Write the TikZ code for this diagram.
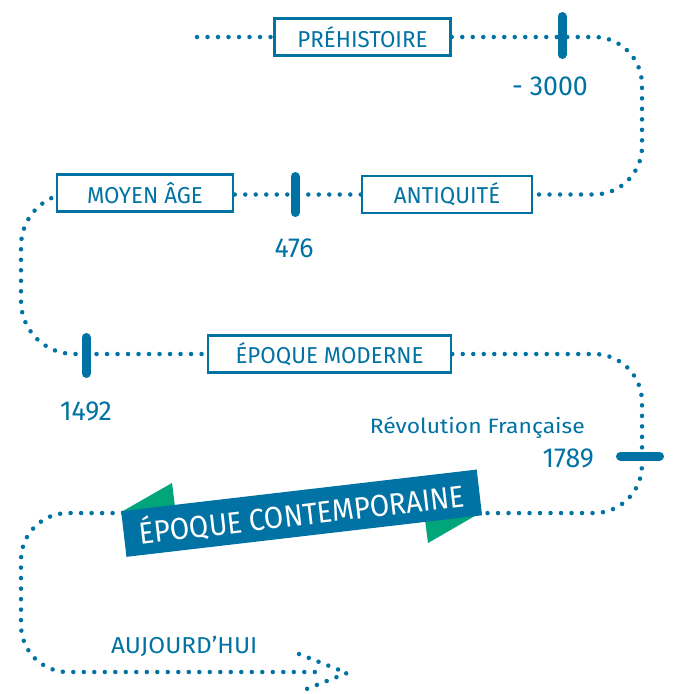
\documentclass[tikz,border=0pt]{standalone}
\usepackage{fontspec}
\usetikzlibrary{backgrounds}
\newfontfamily\condfont[FakeStretch=0.97]{Fira Sans}
\newfontfamily\widefont[FakeStretch=1.06]{Fira Sans}
\newfontfamily\bannerfont[FakeStretch=0.92]{Fira Sans}
\newfontfamily\numfont[FakeStretch=0.97]{Fira Sans}
\newfontfamily\regfont[FakeStretch=1.1]{Fira Sans}
\definecolor{hblue}{HTML}{0072A3}
\definecolor{hgreen}{HTML}{00A679}
\begin{document}
\begin{tikzpicture}[x=1pt,y=-1pt,
  dots/.style={draw=hblue, line width=4.5pt, line cap=round, dash pattern=on 0pt off 10.5pt},
  period/.style={draw=hblue, line width=2.5pt, fill=white, text=hblue, inner sep=0pt,
    minimum height=37pt, font=\condfont\fontsize{23}{23}\selectfont},
  tickmark/.style={draw=hblue, line width=9pt, line cap=round},
  datelabel/.style={text=hblue, inner sep=0pt, font=\numfont\fontsize{27.5}{27.5}\selectfont},
  smalllabel/.style={text=hblue, inner sep=0pt, font=\regfont\fontsize{20.8}{20.8}\selectfont},
  todaylabel/.style={text=hblue, inner sep=0pt, font=\widefont\fontsize{23}{23}\selectfont},
  banner/.style={fill=hblue, text=white, inner sep=0pt, minimum width=358pt, minimum height=46pt,
    font=\bannerfont\fontsize{30.5}{30.5}\selectfont},
  greentri/.style={fill=hgreen, draw=none}
]
\useasboundingbox (0,0) rectangle (675,694);

% green triangles behind the banner
\fill[greentri] (121.7,511.7) -- (172,483) -- (176,515) -- cycle;
\fill[greentri] (480,513) -- (428,543) -- (424,512) -- cycle;

% period boxes
\node[period, minimum width=176pt] (pre) at (362.5,37) {PRÉHISTOIRE};
\node[period, minimum width=170pt] (ant) at (447,194.5) {ANTIQUITÉ};
\node[period, minimum width=176pt] (moy) at (145,193) {MOYEN ÂGE};
\node[period, minimum width=243pt] (mod) at (329.5,354) {ÉPOQUE MODERNE};
\node[banner, rotate=6.67] (ban) at (301.6,513.2) {ÉPOQUE CONTEMPORAINE};

% helper coordinates
\coordinate (start) at (197,37);
\coordinate (r1) at (642,37);
\coordinate (r2) at (642,194.5);
\coordinate (l1) at (21,193);
\coordinate (l2) at (21,354);
\coordinate (r3) at (642,354);
\coordinate (r4) at (642,513);
\coordinate (l3) at (21,513);
\coordinate (l4) at (21,672);
\coordinate (lineend) at (318,672);
\coordinate (armtop) at (299,654);
\coordinate (tip) at (347,673);
\coordinate (armbot) at (299,692);

\begin{pgfonlayer}{background}
\draw[dots] (start) -- (pre.west);
\draw[dots, rounded corners=48pt] (pre.east) -- (r1) -- (r2) -- (ant.east);
\draw[dots] (ant.west) -- (moy.east |- ant.west);
\draw[dots, rounded corners=53pt] (moy.center) -- (l1) -- (l2) -- (mod.west);
\draw[dots, rounded corners=48pt] (mod.east) -- (r3) -- (r4) -- (ban.center);
\draw[dots, rounded corners=47pt] (ban.center) -- (l3) -- (l4) -- (lineend);
\draw[dots] (armtop) -- (tip) -- (armbot);
\end{pgfonlayer}

% tick marks
\draw[tickmark] (562,16.5) -- (562,54.5);
\draw[tickmark] (295,176.5) -- (295,212.5);
\draw[tickmark] (86,337.5) -- (86,373.5);
\draw[tickmark] (620.5,456) -- (659.5,456);

% labels
\node[datelabel, anchor=base east] (l3000) at (588,95) {-\hspace{0.25em}3000};
\node[datelabel, anchor=base] (l476) at (294,257) {476};
\node[datelabel, anchor=base] (l1492) at (86,420) {1492};
\node[smalllabel, anchor=base east] (lrev) at (585,433) {Révolution Française};
\node[datelabel, anchor=base east] (l1789) at (594,467) {1789};
\node[todaylabel, anchor=base west] (auj) at (111,653) {AUJOURD’HUI};
\end{tikzpicture}
\end{document}
